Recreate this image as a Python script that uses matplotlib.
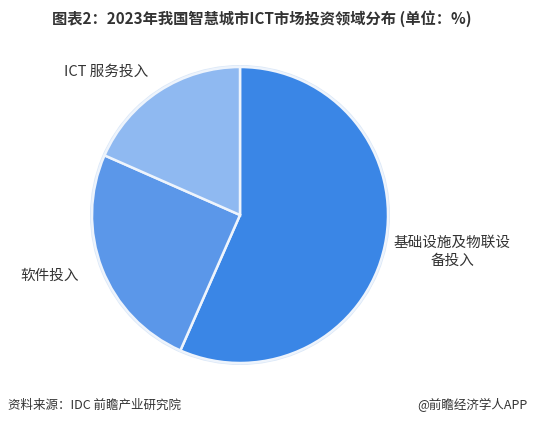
import matplotlib.pyplot as plt

plt.rcParams['font.family'] = ['Noto Sans CJK SC', 'DejaVu Sans']

# shares (%) clockwise from 12 o'clock
labels = ['基础设施及物联设\n备投入', '软件投入', 'ICT 服务投入']
values = [56.6, 25.0, 18.4]
colors = ['#3a86e6', '#5b97e9', '#8fb9f1']

W, H = 533, 425

fig = plt.figure(figsize=(5.33, 4.25), dpi=100)
ax = fig.add_axes([0, 0, 1, 1])

# outer faint ring
ax.pie([1], center=(240, H - 215), radius=150, colors=['#dbe8f8'], frame=True)
ax.pie(values, center=(240, H - 215), radius=148, colors=colors, startangle=90,
       counterclock=False, frame=True,
       wedgeprops=dict(edgecolor='#eef4fc', linewidth=1.8))
ax.set_xlim(0, W)
ax.set_ylim(0, H)
ax.set_aspect('equal')
ax.axis('off')

ax.text(262, H - 19, '图表2：2023年我国智慧城市ICT市场投资领域分布 (单位：%)',
        ha='center', va='center', fontsize=11, fontweight='bold', color='#333333')

ax.text(106, H - 72, labels[2], ha='center', va='center', fontsize=10.5, color='#333333')
ax.text(50, H - 276, labels[1], ha='center', va='center', fontsize=10.5, color='#333333')
ax.text(452, H - 252, labels[0], ha='center', va='center', fontsize=10.5, color='#333333',
        linespacing=1.3)

ax.text(8, H - 405, '资料来源：IDC 前瞻产业研究院', ha='left', va='center',
        fontsize=9, color='#333333')
ax.text(527, H - 405, '@前瞻经济学人APP', ha='right', va='center',
        fontsize=9, color='#333333')

fig.savefig('out.png', dpi=100)
